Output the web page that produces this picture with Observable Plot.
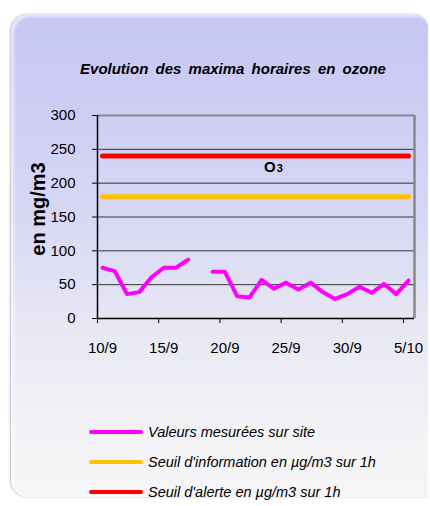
<!DOCTYPE html>
<html>
<head>
<meta charset="utf-8">
<script src="https://cdn.jsdelivr.net/npm/d3@7"></script>
<script src="https://cdn.jsdelivr.net/npm/@observablehq/plot@0.6"></script>
<style>
  html, body { margin: 0; padding: 0; background: #fff; width: 430px; height: 506px; overflow: hidden; }
  body { position: relative; font-family: "Liberation Sans", Arial, sans-serif; }
  #panel { position: absolute; left: 11px; top: 14px; width: 417px; height: 483px;
    border-radius: 17px 14px 0 17px;
    background: linear-gradient(#c6c6f4 0%, #d6d6f4 40%, #e8e8f4 65%, #f4f4f7 90%, #f6f6f8 100%);
    box-shadow: inset 3px 3px 3px rgba(255,255,255,0.55), -1px 0 2px rgba(120,120,160,0.5); }
  #chart { position: absolute; left: 0; top: 0; }
  #title { position: absolute; left: 0; width: 466px; top: 60px; text-align: center;
    font: italic bold 15px "Liberation Sans", Arial, sans-serif; word-spacing: 3px; color: #000; }
  #ylabel { position: absolute; left: 38px; top: 209px; transform: translate(-50%, -50%) rotate(-90deg);
    font: bold 20px "Liberation Sans", Arial, sans-serif; white-space: nowrap; color: #000; }
  .leg { position: absolute; left: 89px; height: 20px; display: flex; align-items: center;
    font: italic 14.5px "Liberation Sans", Arial, sans-serif; color: #000; white-space: nowrap; }
  .leg span.sw { display: inline-block; width: 54px; height: 4px; border-radius: 2px; margin-right: 5px; }
</style>
</head>
<body>
<div id="panel"></div>
<div id="chart"></div>
<div id="title">Evolution des maxima horaires en ozone</div>
<div id="ylabel">en mg/m3</div>
<div id="legend"></div>
<script>
// Day index 0 = 10/9 ... 25 = 5/10
const dates = ["10/9","11/9","12/9","13/9","14/9","15/9","16/9","17/9","18/9","19/9","20/9","21/9","22/9","23/9","24/9","25/9","26/9","27/9","28/9","29/9","30/9","1/10","2/10","3/10","4/10","5/10"];
const measured = [75, 70, 36, 39, 61, 75, 75, 87, NaN, 69, 69, 33, 31, 57, 44, 53, 43, 53, 39, 29, 36, 47, 38, 51, 36, 56];
const infoThreshold = 180;
const alertThreshold = 240;
const yTicks = [0, 50, 100, 150, 200, 250, 300];
const xTickLabels = ["10/9", "15/9", "20/9", "25/9", "30/9", "5/10"];
const seriesNames = ["Valeurs mesurées sur site", "Seuil d'information en µg/m3 sur 1h", "Seuil d'alerte en µg/m3 sur 1h"];
const seriesColors = ["#ff00ff", "#ffc000", "#ff0000"];
const o3Label = {text: "O", sub: "3", day: 14, value: 224};

const rows = dates.map((d, i) => ({day: i, date: d, value: measured[i], info: infoThreshold, alert: alertThreshold}));
const labelDays = xTickLabels.map(l => dates.indexOf(l));

const chart = Plot.plot({
  width: 430,
  height: 506,
  marginLeft: 97,
  marginRight: 16,
  marginTop: 115,
  marginBottom: 188,
  style: {background: "transparent", fontFamily: "Liberation Sans, Arial, sans-serif", color: "#000"},
  x: {type: "linear", domain: [-0.41, 25.49]},
  y: {domain: [0, 300]},
  marks: [
    Plot.ruleY(yTicks.filter(v => v > 0 && v < 300), {stroke: "#333", strokeWidth: 1}),
    Plot.ruleY([300], {stroke: "#888", strokeWidth: 2}),
    Plot.ruleX([25.49], {stroke: "#888", strokeWidth: 2.5}),
    Plot.axisY({ticks: yTicks, tickSize: 5, tickPadding: 17, fontSize: 15, stroke: "#000", label: null}),
    Plot.axisX({ticks: labelDays, tickSize: 5, tickFormat: () => "", dx: -5, stroke: "#000", label: null}),
    Plot.axisX({ticks: labelDays, tickSize: 0, tickPadding: 24, fontSize: 15, tickFormat: d => dates[d], label: null}),
    Plot.ruleX([-0.41], {stroke: "#000", strokeWidth: 1.5}),
    Plot.ruleY([0], {stroke: "#000", strokeWidth: 1.5}),
    Plot.line(rows, {x: "day", y: "alert", stroke: seriesColors[2], strokeWidth: 5, strokeLinecap: "round"}),
    Plot.line(rows, {x: "day", y: "info", stroke: seriesColors[1], strokeWidth: 5, strokeLinecap: "round"}),
    Plot.line(rows, {x: "day", y: "value", stroke: seriesColors[0], strokeWidth: 4, strokeLinecap: "round", strokeLinejoin: "round"}),
    Plot.text([o3Label], {x: "day", y: "value", text: "text", fontSize: 15, fontWeight: "bold", dx: -4}),
    Plot.text([o3Label], {x: "day", y: "value", text: "sub", fontSize: 11, fontWeight: "bold", dx: 6, dy: 2})
  ]
});
document.getElementById("chart").appendChild(chart);

const legend = document.getElementById("legend");
const legendTops = [422, 452, 482];
seriesNames.forEach((name, i) => {
  const div = document.createElement("div");
  div.className = "leg";
  div.style.top = legendTops[i] + "px";
  div.innerHTML = `<span class="sw" style="background:${seriesColors[i]}"></span><span></span>`;
  div.lastChild.textContent = name;
  legend.appendChild(div);
});
</script>
</body>
</html>
